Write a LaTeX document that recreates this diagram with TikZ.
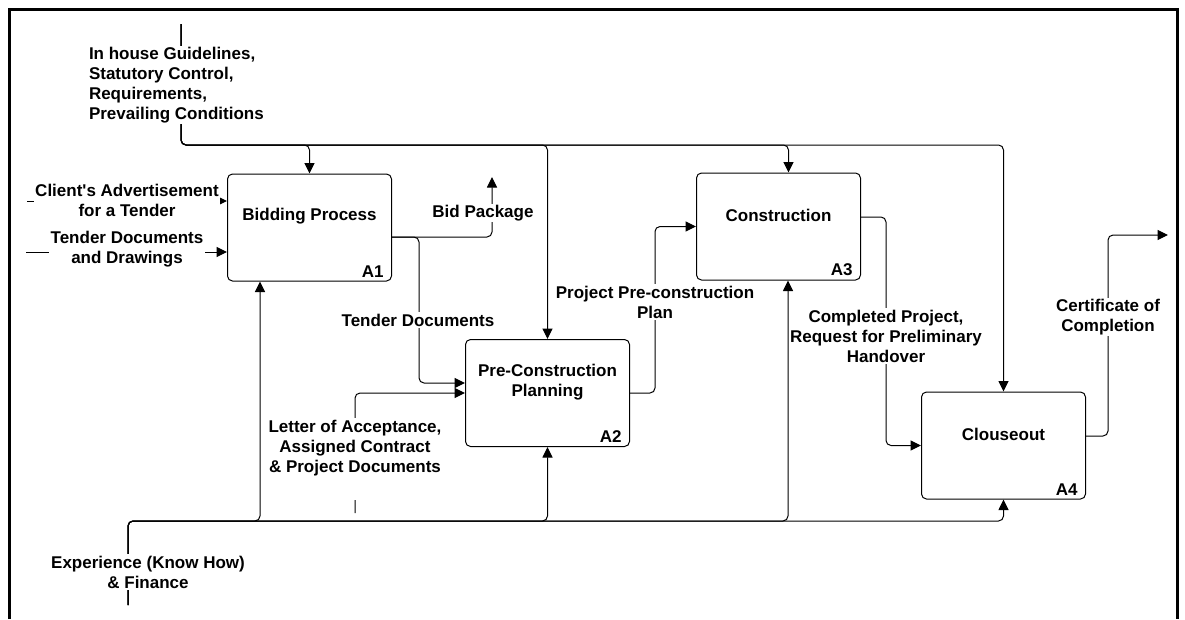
\documentclass[tikz,border=0pt]{standalone}
\usepackage{fontspec}
\setmainfont{Liberation Sans}
\usetikzlibrary{arrows.meta}

\tikzset{
  proc/.style={draw, rounded corners=5pt, minimum width=164pt, minimum height=107pt, inner sep=0pt},
  proctext/.style={align=center, inner sep=0pt},
  code/.style={anchor=south east, inner sep=0pt},
  flow/.style={->, rounded corners=5pt},
  lbl/.style={fill=white, inner sep=1.5pt, align=center},
}

\begin{document}
\begin{tikzpicture}[x=1pt, y=-1pt, line width=1pt, >={Triangle[length=10.5pt,width=10pt]},
    font=\bfseries\fontsize{17}{20}\selectfont]
  \useasboundingbox (0,0) rectangle (1185,619);
  % frame
  \draw[line width=3pt] (9.5,619) -- (9.5,9.5) -- (1177,9.5) -- (1177,619);

  % activity boxes
  \node[proc] (A1) at (309.5,227.5) {};
  \node[proc] (A2) at (547.5,393) {};
  \node[proc] (A3) at (778.5,226.5) {};
  \node[proc] (A4) at (1003.5,445.5) {};
  \node[proctext] (A1t) at ([yshift=-43pt]A1.north) {Bidding Process};
  \node[proctext] (A2t) at ([yshift=-43pt]A2.north) {Pre-Construction\\Planning};
  \node[proctext] (A3t) at ([yshift=-43pt]A3.north) {Construction};
  \node[proctext] (A4t) at ([yshift=-43pt]A4.north) {Clouseout};
  \node[code] (A1c) at ([xshift=-8pt,yshift=4pt]A1.south east) {A1};
  \node[code] (A2c) at ([xshift=-8pt,yshift=4pt]A2.south east) {A2};
  \node[code] (A3c) at ([xshift=-8pt,yshift=4pt]A3.south east) {A3};
  \node[code] (A4c) at ([xshift=-8pt,yshift=4pt]A4.south east) {A4};

  % free ends
  \coordinate (ctlTop) at (181,24);
  \coordinate (ctlBus) at (181,145);
  \coordinate (mechBot) at (128,605);
  \coordinate (mechBus) at (128,521);
  \coordinate (advIn) at (27,201);
  \coordinate (tdIn) at (26,252);
  \coordinate (letIn) at (355,513);
  \coordinate (bidOut) at (492,177);
  \coordinate (certOut) at (1168,235);

  % controls
  \draw[flow] (ctlTop) -- (ctlBus) -| (A1.north);
  \draw[flow] (ctlTop) -- (ctlBus) -| (A2.north);
  \draw[flow] (ctlTop) -- (ctlBus) -| ([xshift=10pt]A3.north);
  \draw[flow] (ctlTop) -- (ctlBus) -| (A4.north);

  % mechanisms
  \draw[flow] (mechBot) -- (mechBus) -| ([xshift=-49.5pt]A1.south);
  \draw[flow] (mechBot) -- (mechBus) -| (A2.south);
  \draw[flow] (mechBot) -- (mechBus) -| ([xshift=9.5pt]A3.south);
  \draw[flow] (mechBot) -- (mechBus) -| (A4.south);
  \draw[flow] (letIn) |- (A2.west);

  % inputs and outputs
  \draw[flow] (advIn) -- (advIn -| A1.west);
  \draw[flow] (tdIn) -- (tdIn -| A1.west);
  \draw[flow] ([yshift=-9.5pt]A1.east) -| (bidOut);
  \draw[flow] ([yshift=-9.5pt]A1.east) -- ++(27,0) |- ([yshift=10pt]A2.west);
  \draw[flow] (A2.east) -- ++(25,0) |- (A3.west);
  \draw[flow] ([yshift=9.5pt]A3.east) -- ++(25,0) |- (A4.west);
  \draw[flow] ([yshift=9.5pt]A4.east) -- ++(22,0) |- (certOut);

  % arrow labels
  \node[lbl, align=left, anchor=west] (ctlLbl) at (87,85) {In house Guidelines,\\Statutory Control,\\Requirements,\\Prevailing Conditions};
  \node[lbl] (advLbl) at (127,200) {Client\textquotesingle s Advertisement\\for a Tender};
  \node[lbl] (tdLbl) at (127,249) {Tender Documents\\and Drawings};
  \node[lbl] (bidLbl) at (483,213) {Bid Package};
  \node[lbl] (tdocLbl) at (418,320) {Tender Documents};
  \node[lbl] (planLbl) at (655,302) {Project Pre-construction\\Plan};
  \node[lbl] (letLbl) at (355,459) {Letter of Acceptance,\\Assigned Contract\\\& Project Documents\\\strut};
  \node[lbl] (compLbl) at (886,336) {Completed Project,\\Request for Preliminary\\Handover};
  \node[lbl] (certLbl) at (1108,317) {Certificate of\\Completion};
  \node[lbl] (expLbl) at (148,572) {Experience (Know How)\\\& Finance};
\end{tikzpicture}
\end{document}
